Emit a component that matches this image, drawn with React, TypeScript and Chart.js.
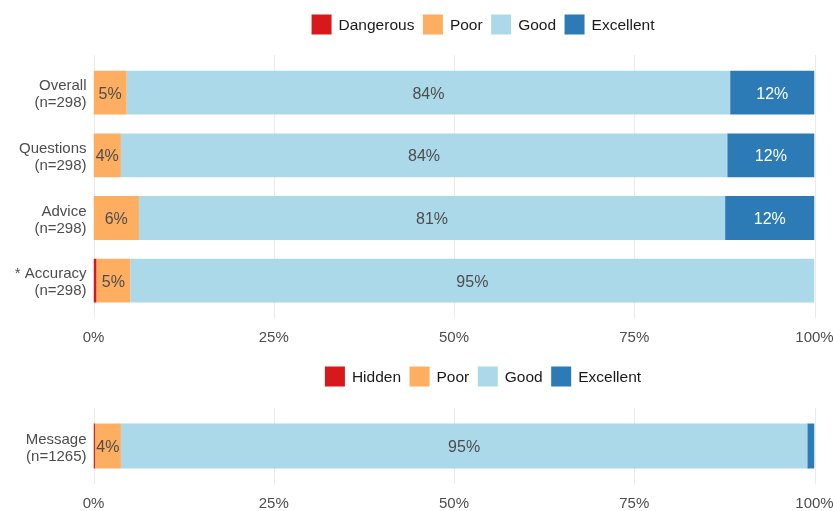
import React, { useEffect, useRef } from 'react';
import { Chart, registerables } from 'chart.js';
Chart.register(...registerables);

const FONT = '"Liberation Sans", Arial, Helvetica, sans-serif';

// ---- Top panel data ----
const topCategories = [
  ['Overall', '(n=298)'],
  ['Questions', '(n=298)'],
  ['Advice', '(n=298)'],
  ['* Accuracy', '(n=298)'],
];
const topLegend = ['Dangerous', 'Poor', 'Good', 'Excellent'];
const topDangerous = [0, 0, 0, 0.4];
const topPoor = [4.6, 3.8, 6.3, 4.7];
const topGood = [83.7, 84.1, 81.3, 94.9];
const topExcellent = [11.7, 12.1, 12.4, 0];

// ---- Bottom panel data ----
const bottomCategories = [['Message', '(n=1265)']];
const bottomLegend = ['Hidden', 'Poor', 'Good', 'Excellent'];
const bottomHidden = [0.2];
const bottomPoor = [3.6];
const bottomGood = [95.2];
const bottomExcellent = [1.0];

const xTicks = [0, 25, 50, 75, 100];

const COLORS = ['#d7191c', '#fdae61', '#abd9e9', '#2c7bb6'];
const LABEL_COLORS = ['#4d4d4d', '#4d4d4d', '#4d4d4d', '#ffffff'];
const TEXT_GRAY = '#4d4d4d';

function makeConfig(
  labels: any[],
  names: string[],
  series: number[][],
  legendCenterY: number,
  padTop: number
) {
  const gridPlugin = {
    id: 'extGrid',
    beforeDatasetsDraw(chart: any) {
      const { ctx, chartArea } = chart;
      const xs = chart.scales.x;
      const catH = chartArea.height / labels.length;
      const ext = catH * 0.1;
      ctx.save();
      ctx.strokeStyle = '#ebebeb';
      ctx.lineWidth = 1.1;
      xTicks.forEach((v) => {
        const px = Math.round(xs.getPixelForValue(v)) + 0.5;
        ctx.beginPath();
        ctx.moveTo(px, chartArea.top - ext);
        ctx.lineTo(px, chartArea.bottom + ext);
        ctx.stroke();
      });
      ctx.restore();
    },
  };

  const valueLabelPlugin = {
    id: 'valueLabels',
    afterDatasetsDraw(chart: any) {
      const { ctx } = chart;
      ctx.save();
      ctx.font = `16px ${FONT}`;
      ctx.textAlign = 'center';
      ctx.textBaseline = 'middle';
      chart.data.datasets.forEach((ds: any, di: number) => {
        const meta = chart.getDatasetMeta(di);
        meta.data.forEach((el: any, i: number) => {
          const v = ds.data[i];
          if (v < 2) return;
          const cx = (el.x + el.base) / 2;
          ctx.fillStyle = LABEL_COLORS[di];
          ctx.fillText(Math.round(v) + '%', cx, el.y + 1.5);
        });
      });
      ctx.restore();
    },
  };

  const legendPlugin = {
    id: 'customLegend',
    afterDraw(chart: any) {
      const { ctx } = chart;
      ctx.save();
      ctx.font = `15.5px ${FONT}`;
      const box = 20;
      const gapText = 7;
      const gapItem = 8.5;
      const widths = names.map((n) => ctx.measureText(n).width);
      let total = 0;
      widths.forEach((w, i) => {
        total += box + gapText + w + (i < widths.length - 1 ? gapItem : 0);
      });
      const centerX = 483;
      let x = centerX - total / 2;
      ctx.textBaseline = 'middle';
      ctx.textAlign = 'left';
      names.forEach((n, i) => {
        ctx.fillStyle = COLORS[i];
        ctx.fillRect(x, legendCenterY - box / 2, box, box);
        x += box + gapText;
        ctx.fillStyle = '#1a1a1a';
        ctx.fillText(n, x, legendCenterY + 1);
        x += widths[i] + gapItem;
      });
      ctx.restore();
    },
  };

  return {
    type: 'bar' as const,
    data: {
      labels,
      datasets: names.map((n, i) => ({
        label: n,
        data: series[i],
        backgroundColor: COLORS[i],
        borderWidth: 0,
        barPercentage: 0.7,
        categoryPercentage: 1.0,
      })),
    },
    options: {
      indexAxis: 'y' as const,
      responsive: false,
      animation: false as const,
      devicePixelRatio: 1,
      layout: { padding: { top: padTop, right: 18.5, bottom: 0, left: 0 } },
      plugins: {
        legend: { display: false },
        tooltip: { enabled: false },
        title: { display: false },
      },
      scales: {
        x: {
          stacked: true,
          min: 0,
          max: 100,
          ticks: {
            stepSize: 25,
            callback: (v: any) => v + '%',
            color: TEXT_GRAY,
            font: { family: FONT, size: 15 },
            padding: 8.5,
            maxRotation: 0,
          },
          grid: { display: false },
          border: { display: false },
          afterFit: (s: any) => {
            s.height = 33;
            s.paddingLeft = 0;
            s.paddingRight = 0;
          },
        },
        y: {
          stacked: true,
          ticks: {
            color: TEXT_GRAY,
            font: { family: FONT, size: 15, lineHeight: 1.15 },
            padding: 7,
            labelOffset: 2,
          },
          grid: { display: false, drawTicks: false },
          border: { display: false },
          afterFit: (s: any) => {
            s.width = 93.5;
            s.paddingTop = 0;
            s.paddingBottom = 0;
          },
        },
      },
    },
    plugins: [gridPlugin, valueLabelPlugin, legendPlugin],
  };
}

function ChartCanvas(props: {
  config: any;
  top: number;
  height: number;
}) {
  const ref = useRef<HTMLCanvasElement | null>(null);
  useEffect(() => {
    if (!ref.current) return;
    const chart = new Chart(ref.current, props.config);
    return () => chart.destroy();
  }, []);
  return (
    <canvas
      ref={ref}
      width={833}
      height={props.height}
      style={{
        position: 'absolute',
        left: 0,
        top: props.top,
        width: 833,
        height: props.height,
      }}
    />
  );
}

export default function App() {
  const topConfig = makeConfig(
    topCategories,
    topLegend,
    [topDangerous, topPoor, topGood, topExcellent],
    24.5,
    61.3
  );
  const bottomConfig = makeConfig(
    bottomCategories,
    bottomLegend,
    [bottomHidden, bottomPoor, bottomGood, bottomExcellent],
    31.5,
    69
  );
  return (
    <div
      style={{
        position: 'absolute',
        left: 0,
        top: 0,
        width: 833,
        height: 511,
        background: '#ffffff',
        overflow: 'hidden',
      }}
    >
      <ChartCanvas config={topConfig} top={0} height={345} />
      <ChartCanvas config={bottomConfig} top={345} height={166} />
    </div>
  );
}
